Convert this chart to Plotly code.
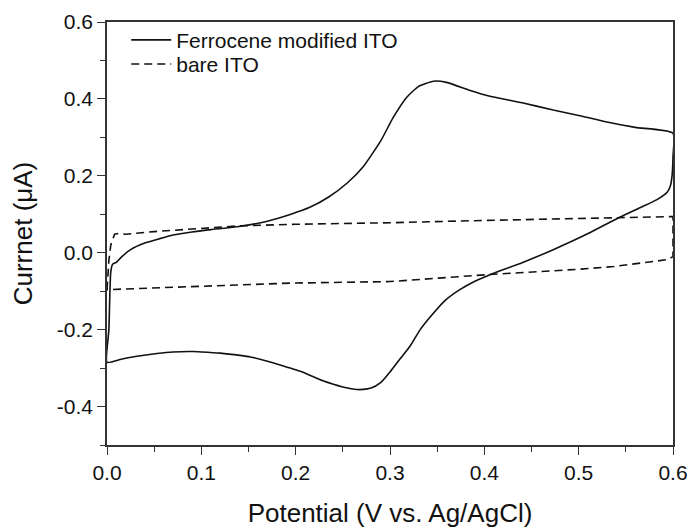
import plotly.graph_objects as go

# Ferrocene modified ITO (forward then reverse scan)
ferro_x = [0.0, 0.002, 0.004, 0.006, 0.01, 0.015, 0.025, 0.04, 0.055, 0.07, 0.09, 0.11, 0.14, 0.17,
           0.195, 0.215, 0.235, 0.255, 0.272, 0.29, 0.303, 0.318, 0.33, 0.346, 0.36, 0.385, 0.406,
           0.44, 0.473, 0.5, 0.526, 0.56, 0.6,
           0.6, 0.599, 0.597, 0.594, 0.583, 0.565, 0.544, 0.51, 0.473, 0.44, 0.406, 0.39, 0.374,
           0.358, 0.343, 0.332, 0.321, 0.311, 0.3, 0.29, 0.28, 0.268, 0.255, 0.24, 0.229, 0.205,
           0.194, 0.17, 0.152, 0.141, 0.12, 0.1, 0.091, 0.07, 0.053, 0.03, 0.015, 0.0]
ferro_y = [-0.285, -0.2, -0.05, -0.03, -0.025, -0.012, 0.008, 0.025, 0.036, 0.046, 0.054, 0.06, 0.068, 0.082,
           0.1, 0.118, 0.145, 0.182, 0.225, 0.29, 0.35, 0.405, 0.432, 0.446, 0.443, 0.422, 0.407,
           0.39, 0.371, 0.357, 0.342, 0.326, 0.311,
           0.25, 0.2, 0.172, 0.158, 0.138, 0.117, 0.093, 0.05, 0.008, -0.026, -0.057, -0.074, -0.096,
           -0.125, -0.166, -0.2, -0.244, -0.275, -0.31, -0.338, -0.352, -0.356, -0.352, -0.342, -0.333, -0.308,
           -0.300, -0.282, -0.271, -0.267, -0.261, -0.258, -0.257, -0.258, -0.262, -0.27, -0.277, -0.285]

# Bare ITO
bare_x = [0.0, 0.002, 0.004, 0.008, 0.012, 0.02, 0.05, 0.1, 0.141, 0.2, 0.3, 0.4, 0.5, 0.594, 0.6,
          0.6, 0.594, 0.537, 0.5, 0.403, 0.3, 0.194, 0.088, 0.03, 0.0]
bare_y = [-0.096, -0.02, 0.02, 0.048, 0.05, 0.048, 0.055, 0.063, 0.07, 0.074, 0.078, 0.084, 0.089, 0.094, 0.094,
          -0.01, -0.018, -0.036, -0.043, -0.057, -0.075, -0.079, -0.088, -0.092, -0.096]

y_tickvals = [0.6, 0.4, 0.2, 0.0, -0.2, -0.4]
y_ticktext = ["0.6", "0.4", "0.2", "0.0", "-0.2", "-0.4"]
x_tickvals = [0.0, 0.1, 0.2, 0.3, 0.4, 0.5, 0.6]
x_ticktext = ["0.0", "0.1", "0.2", "0.3", "0.4", "0.5", "0.6"]

FONT = "Liberation Sans, Arial, sans-serif"

fig = go.Figure()
fig.add_trace(go.Scatter(x=ferro_x, y=ferro_y, mode="lines", name="Ferrocene modified ITO",
                         line=dict(color="#111111", width=1.6, shape="spline", smoothing=0.5),
                         legend="legend"))
fig.add_trace(go.Scatter(x=bare_x, y=bare_y, mode="lines", name="bare ITO",
                         line=dict(color="#111111", width=1.6, dash="8px,5px"), legend="legend2"))

axis_common = dict(showline=True, linecolor="#333333", linewidth=1.5, mirror=True,
                   ticks="outside", ticklen=8, tickwidth=1.3, tickcolor="#333333",
                   showgrid=False, zeroline=False, ticklabeloverflow="allow",
                   tickfont=dict(family=FONT, size=21, color="#111111"))

fig.update_xaxes(range=[0, 0.6], tickmode="array", tickvals=x_tickvals, ticktext=x_ticktext,
                 minor=dict(dtick=0.05, tick0=0, ticks="outside", ticklen=5, tickwidth=1.2,
                            tickcolor="#333333", showgrid=False),
                 title=dict(text="Potential (V vs. Ag/AgCl)", font=dict(family=FONT, size=26, color="#111111"),
                            standoff=21),
                 **axis_common)
fig.update_yaxes(range=[-0.5, 0.6], tickmode="array", tickvals=y_tickvals, ticktext=y_ticktext,
                 minor=dict(dtick=0.1, tick0=0, ticks="outside", ticklen=5, tickwidth=1.2,
                            tickcolor="#333333", showgrid=False),
                 title=dict(text="Currnet (μA)", font=dict(family=FONT, size=26, color="#111111"),
                            standoff=17),
                 **axis_common)

legend_common = dict(xanchor="left", yanchor="middle", bgcolor="rgba(0,0,0,0)",
                     font=dict(family=FONT, size=21, color="#111111"), itemwidth=40)

fig.update_layout(
    width=687, height=521,
    margin=dict(l=99, r=22, t=14, b=84, autoexpand=False),
    plot_bgcolor="white", paper_bgcolor="white",
    showlegend=True,
    legend=dict(x=0.034, y=0.957, **legend_common),
    legend2=dict(x=0.034, y=0.900, **legend_common),
)

fig.write_html("out.html")
